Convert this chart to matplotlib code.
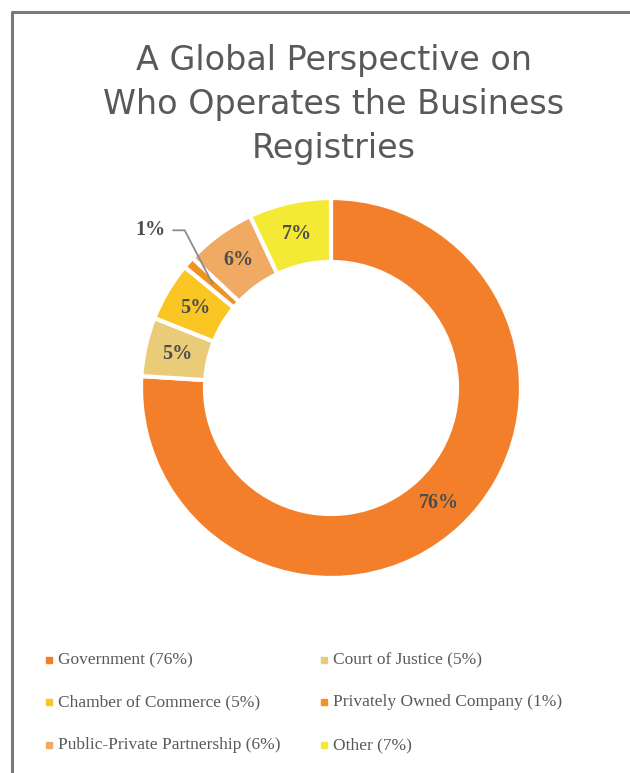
import numpy as np
import matplotlib
matplotlib.use("Agg")
import matplotlib.pyplot as plt
from matplotlib.lines import Line2D

categories = ["Government", "Court of Justice", "Chamber of Commerce",
              "Privately Owned Company", "Public-Private Partnership", "Other"]
shares = [76, 5, 5, 1, 6, 7]
colors = ["#F47F2A", "#E9CB78", "#F9C623", "#F29222", "#F1AA64", "#F4EA36"]

TITLE = "A Global Perspective on\nWho Operates the Business\nRegistries"
W, H = 630, 773
CX, CY, R = 331, 388, 190     # centre / outer radius of the donut, px
RING = 64                     # ring width, px

fig = plt.figure(figsize=(W / 100, H / 100), dpi=100)

# frame of the chart area (only left and top are visible in the crop)
fig.add_artist(Line2D([11.5 / W, 11.5 / W, 1.0], [0.0, 1 - 12 / H, 1 - 12 / H],
                      transform=fig.transFigure, color="#767A7C", lw=2.2))

fig.text(334 / W, 1 - 44 / H, TITLE, ha="center", va="top", fontsize=24,
         color="#595959", family="DejaVu Sans", linespacing=1.42)

half = 210
ax = fig.add_axes([(CX - half) / W, (H - CY - half) / H, 2 * half / W, 2 * half / H])
lim = half / R

wedges, _ = ax.pie(shares, colors=colors, startangle=90, counterclock=False,
                   radius=1.0, frame=True,
                   wedgeprops=dict(width=RING / R, edgecolor="white", linewidth=3))
ax.set_xlim(-lim, lim)
ax.set_ylim(-lim, lim)
ax.set_aspect("equal")
ax.axis("off")

lab_font = dict(family="Liberation Serif", fontweight="bold", fontsize=14.5,
                color="#4D4D4D", ha="center", va="center")
r_mid = 1 - RING / R / 2
for w, v in zip(wedges, shares):
    ang = np.deg2rad((w.theta1 + w.theta2) / 2)
    if v < 2:
        # small slice: label outside with a leader line
        tx, ty = -0.95, 0.83
        ex, ey = r_mid * np.cos(ang), r_mid * np.sin(ang)
        ax.plot([tx + 0.12, tx + 0.18, ex], [ty, ty, ey], color="#8C8C8C", lw=1.3)
        ax.text(tx, ty, f"{v}%", **lab_font)
    else:
        ax.text(r_mid * np.cos(ang), r_mid * np.sin(ang), f"{v}%", **lab_font)

# legend, row-wise like the original (two columns)
col_x = [49, 324]
row_y = [660, 702, 745]
for i, (name, v, c) in enumerate(zip(categories, shares, colors)):
    x = col_x[i % 2]
    y = row_y[i // 2]
    fig.add_artist(Line2D([x / W], [1 - y / H], marker="s", markersize=4.3,
                          color=c, transform=fig.transFigure))
    fig.text((x + 9) / W, 1 - y / H, f"{name} ({v}%)", ha="left", va="center",
             fontsize=12.5, color="#595959", family="Liberation Serif")

fig.savefig("out.png", dpi=100, facecolor="white")
